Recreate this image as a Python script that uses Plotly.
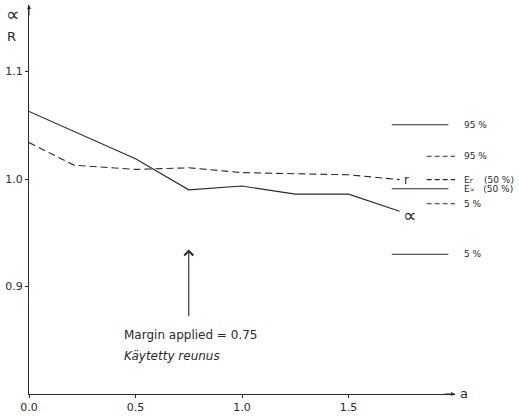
import plotly.graph_objects as go

# ---- data ----
a_alpha = [0.0, 0.5, 0.75, 1.0, 1.25, 1.5, 1.74]
alpha_vals = [1.063, 1.019, 0.990, 0.9935, 0.986, 0.986, 0.970]

a_r = [0.0, 0.21, 0.5, 0.75, 1.0, 1.25, 1.5, 1.74]
r_vals = [1.034, 1.013, 1.009, 1.0105, 1.006, 1.005, 1.004, 0.9995]

# percentile levels (95 %, 50 %, 5 %)
alpha_levels = [1.0506, 0.991, 0.930]
r_levels = [1.0212, 0.9995, 0.977]
alpha_level_labels = ["95 %", "E<span style='font-size:7px'>∝</span>   (50 %)", "5 %"]
r_level_labels = ["95 %", "E<span style='font-size:7px'>r</span>    (50 %)", "5 %"]

x_ticks = [0.0, 0.5, 1.0, 1.5]
x_tick_text = ["0.0", "0.5", "1.0", "1.5"]
y_ticks = [0.9, 1.0, 1.1]
y_tick_text = ["0.9", "1.0", "1.1"]

margin_applied = 0.75

INK = "#2a2a2a"
FONT = "DejaVu Sans"

fig = go.Figure()
fig.add_trace(go.Scatter(x=a_alpha, y=alpha_vals, mode="lines",
                         line=dict(color=INK, width=1.1), showlegend=False))
fig.add_trace(go.Scatter(x=a_r, y=r_vals, mode="lines",
                         line=dict(color=INK, width=1.1, dash="7px,4px"), showlegend=False))

# percentile marker segments
for lv in alpha_levels:
    fig.add_trace(go.Scatter(x=[1.703, 1.969], y=[lv, lv], mode="lines", cliponaxis=False,
                             line=dict(color=INK, width=1.1), showlegend=False))
for lv in r_levels:
    fig.add_trace(go.Scatter(x=[1.867, 2.009], y=[lv, lv], mode="lines", cliponaxis=False,
                             line=dict(color=INK, width=1.1, dash="5px,3px"), showlegend=False))

ann = []
for lv, t in zip(alpha_levels, alpha_level_labels):
    ann.append(dict(x=1.016, xref="x domain", y=lv, text=t, showarrow=False, xanchor="left",
                    yanchor="middle", font=dict(size=9, color=INK, family=FONT)))
for lv, t in zip(r_levels, r_level_labels):
    ann.append(dict(x=1.016, xref="x domain", y=lv, text=t, showarrow=False, xanchor="left",
                    yanchor="middle", font=dict(size=9, color=INK, family=FONT)))

# curve labels
ann.append(dict(x=a_r[-1], y=r_vals[-1], text="r", showarrow=False, xanchor="left",
                xshift=2, yanchor="middle", font=dict(size=12, color=INK, family=FONT)))
ann.append(dict(x=a_alpha[-1], y=alpha_vals[-1], text="∝", showarrow=False, xanchor="left",
                xshift=1, yshift=-4, yanchor="middle", font=dict(size=19, color=INK, family=FONT)))

# axis titles
ann.append(dict(x=0, y=1.0, xref="paper", yref="paper", text="∝", showarrow=False,
                xanchor="right", xshift=-7, yanchor="middle", yshift=-9,
                font=dict(size=19, color=INK, family=FONT)))
ann.append(dict(x=0, y=1.0, xref="paper", yref="paper", text="R", showarrow=False,
                xanchor="right", xshift=-11, yanchor="middle", yshift=-31,
                font=dict(size=13, color=INK, family=FONT)))
ann.append(dict(x=1.0, y=0, xref="paper", yref="paper", text="a", showarrow=False,
                xanchor="left", xshift=3, yanchor="middle", yshift=1,
                font=dict(size=13, color=INK, family=FONT)))

# axis arrows
ann.append(dict(x=0, y=1.0, xref="x domain", yref="y domain", ax=0, ay=12,
                showarrow=True, arrowhead=2, arrowsize=0.8, arrowwidth=1.0, arrowcolor=INK, text=""))
ann.append(dict(x=1.0, y=0, xref="x domain", yref="y domain", ax=-12, ay=0,
                showarrow=True, arrowhead=2, arrowsize=0.8, arrowwidth=1.0, arrowcolor=INK, text=""))

# margin arrow
ann.append(dict(x=margin_applied, y=0.9344, ax=margin_applied, ay=0.871, axref="x", ayref="y",
                showarrow=True, arrowhead=4, arrowsize=1.6, arrowwidth=1.1, arrowcolor=INK, text=""))
ann.append(dict(x=0.437, y=0.8553, text="Margin applied = 0.75", showarrow=False, xanchor="left",
                yanchor="middle", font=dict(size=12, color=INK, family=FONT)))
ann.append(dict(x=0.437, y=0.8358, text="<i>Käytetty reunus</i>", showarrow=False, xanchor="left",
                yanchor="middle", font=dict(size=12, color=INK, family=FONT)))

fig.update_layout(
    width=519, height=417,
    margin=dict(l=29, r=64, t=5, b=23, autoexpand=False),
    paper_bgcolor="white", plot_bgcolor="white",
    annotations=ann,
    xaxis=dict(range=[0, 2.0], tickvals=x_ticks, ticktext=x_tick_text, showgrid=False,
               zeroline=False, showline=True, linecolor=INK, linewidth=1.1,
               ticks="outside", ticklen=3, tickcolor=INK,
               tickfont=dict(size=11, color=INK, family=FONT)),
    yaxis=dict(range=[0.8, 1.162], tickvals=y_ticks, ticktext=y_tick_text, showgrid=False,
               zeroline=False, showline=True, linecolor=INK, linewidth=1.1,
               ticks="outside", ticklen=3, tickcolor=INK,
               tickfont=dict(size=11, color=INK, family=FONT)),
)

fig.write_html("out.html", config={"displayModeBar": False},
               post_script="document.body.style.margin='0';document.body.style.overflow='hidden';")
